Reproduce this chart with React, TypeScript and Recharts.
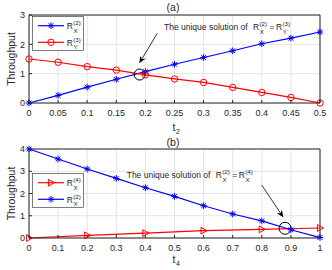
import React from 'react';
import { LineChart, Line, XAxis, YAxis, CartesianGrid, Legend, ReferenceDot, ReferenceLine } from 'recharts';

const FONT = '"Liberation Sans", Arial, Helvetica, sans-serif';
const INK = '#262626';
const BLUE = '#0000ff';
const RED = '#ff0000';
const GRID = '#e4e4e4';

// panel (a): throughput vs t2
const t2 = [0, 0.05, 0.1, 0.15, 0.2, 0.25, 0.3, 0.35, 0.4, 0.45, 0.5];
const rx2A = [0, 0.26, 0.54, 0.81, 1.07, 1.32, 1.55, 1.78, 2.02, 2.21, 2.42];
const ry3A = [1.5, 1.39, 1.24, 1.12, 0.96, 0.82, 0.7, 0.53, 0.36, 0.19, 0];
const yTicksA = [0, 1, 2, 3];

// panel (b): throughput vs t4
const t4 = [0, 0.1, 0.2, 0.3, 0.4, 0.5, 0.6, 0.7, 0.8, 0.9, 1];
const rx2B = [4, 3.55, 3.1, 2.68, 2.26, 1.87, 1.45, 1.08, 0.77, 0.37, 0.02];
const t4Coarse = [0, 0.2, 0.4, 0.6, 0.8, 1];
const rx4B = [0, 0.12, 0.22, 0.33, 0.39, 0.45];
const yTicksB = [0, 1, 2, 3, 4];

// legend / annotation labels: R with (sup) and sub
const legendA = [
  { sup: '(2)', sub: 'X', color: BLUE, marker: 'star' },
  { sup: '(3)', sub: 'Y', color: RED, marker: 'circle' },
];
const legendB = [
  { sup: '(4)', sub: 'X', color: RED, marker: 'tri' },
  { sup: '(2)', sub: 'X', color: BLUE, marker: 'star' },
];
const annotText = 'The unique solution of';

const dataA = t2.map((t, i) => ({ t, rx2: rx2A[i], ry3: ry3A[i] }));
const dataB2 = t4.map((t, i) => ({ t, rx2: rx2B[i] }));
const dataB4 = t4Coarse.map((t, i) => ({ t, rx4: rx4B[i] }));

const Marker = ({ kind, cx, cy, color }: any) => {
  if (kind === 'star') {
    const r = 3.3, d = 2.4;
    return (
      <g stroke={color} strokeWidth={1}>
        <line x1={cx - r} x2={cx + r} y1={cy} y2={cy} />
        <line x1={cx} x2={cx} y1={cy - r} y2={cy + r} />
        <line x1={cx - d} x2={cx + d} y1={cy - d} y2={cy + d} />
        <line x1={cx - d} x2={cx + d} y1={cy + d} y2={cy - d} />
      </g>
    );
  }
  if (kind === 'circle') return <circle cx={cx} cy={cy} r={3.2} fill="none" stroke={color} strokeWidth={1} />;
  return (
    <polygon
      points={`${cx + 3.4},${cy} ${cx - 2.6},${cy - 3.4} ${cx - 2.6},${cy + 3.4}`}
      fill="none"
      stroke={color}
      strokeWidth={1}
    />
  );
};

const dotOf = (kind: string, color: string) => (p: any) =>
  <Marker key={`${kind}-${p.index}`} kind={kind} cx={p.cx} cy={p.cy} color={color} />;

const RSym = ({ x, y, sup, sub, fs = 8.5 }: any) => (
  <g fontFamily={FONT} fill={INK}>
    <text x={x} y={y} fontSize={fs}>R</text>
    <text x={x + fs * 0.76} y={y - fs * 0.5} fontSize={fs * 0.73}>{sup}</text>
    <text x={x + fs * 0.8} y={y + fs * 0.42} fontSize={fs * 0.73}>{sub}</text>
  </g>
);

const LegendBox = ({ rows }: any) => (
  <svg width={52} height={35} style={{ display: 'block' }}>
    <rect x={0.5} y={0.5} width={51} height={34} fill="#fff" stroke={INK} strokeWidth={0.6} />
    {rows.map((r: any, i: number) => {
      const cy = 9.7 + i * 16.6;
      return (
        <g key={i}>
          <line x1={6} x2={32} y1={cy} y2={cy} stroke={r.color} strokeWidth={1.2} />
          <Marker kind={r.marker} cx={19} cy={cy} color={r.color} />
          <RSym x={34.7} y={cy + 3.5} sup={r.sup} sub={r.sub} />
        </g>
      );
    })}
  </svg>
);

const annotShape = (lhs: any, rhs: any) => (p: any) => (
  <g fontFamily={FONT} fill={INK}>
    <text x={p.cx} y={p.cy} fontSize={8.5}>{annotText}</text>
    <RSym x={p.cx + 89} y={p.cy} sup={lhs.sup} sub={lhs.sub} />
    <text x={p.cx + 105.5} y={p.cy} fontSize={8.5}>=</text>
    <RSym x={p.cx + 112} y={p.cy} sup={rhs.sup} sub={rhs.sub} />
  </g>
);

const arrowShape = (p: any) => {
  const { x1, y1, x2, y2 } = p;
  const a = Math.atan2(y2 - y1, x2 - x1);
  const L = 7, W = 3;
  const c = Math.cos(a), s = Math.sin(a);
  const bx = x2 - L * c, by = y2 - L * s;
  const nx = x2 - 0.7 * L * c, ny = y2 - 0.7 * L * s;
  return (
    <g>
      <line x1={x1} y1={y1} x2={nx} y2={ny} stroke="#000" strokeWidth={0.8} />
      <polygon points={`${x2},${y2} ${bx - s * W},${by + c * W} ${nx},${ny} ${bx + s * W},${by - c * W}`} fill="#000" />
    </g>
  );
};

const BottomTick = ({ x, y, payload }: any) => (
  <g>
    <line x1={x} x2={x} y1={y - 7} y2={y - 10} stroke={INK} />
    <text x={x} y={y} dy="0.71em" textAnchor="middle" fontSize={9} fill={INK} fontFamily={FONT}>{payload.value}</text>
  </g>
);
const LeftTick = ({ x, y, payload }: any) => (
  <g>
    <line x1={x + 4} x2={x + 7} y1={y} y2={y} stroke={INK} />
    <text x={x} y={y} dy="0.355em" textAnchor="end" fontSize={9} fill={INK} fontFamily={FONT}>{payload.value}</text>
  </g>
);
const TopTick = ({ x, y }: any) => <line x1={x} x2={x} y1={y} y2={y + 3} stroke={INK} />;
const RightTick = ({ x, y }: any) => <line x1={x} x2={x - 3} y1={y} y2={y} stroke={INK} />;

const titleLabel = (text: string) => (p: any) => {
  const vb = p.viewBox;
  return (
    <text x={vb.x + vb.width / 2 - 1.5} y={vb.y + 10.5} textAnchor="middle" fontSize={10.5} fill={INK} fontFamily={FONT}>
      {text}
    </text>
  );
};

const xLabel = (sub: string, dy: number) => (p: any) => {
  const vb = p.viewBox;
  const cx = vb.x + vb.width / 2 - 2;
  return (
    <g fontFamily={FONT} fill={INK}>
      <text x={cx} y={vb.y + dy} fontSize={10.5}>t</text>
      <text x={cx + 3.4} y={vb.y + dy + 3} fontSize={7}>{sub}</text>
    </g>
  );
};

const yLabel = (p: any) => {
  const vb = p.viewBox;
  const cy = vb.y + vb.height / 2;
  return (
    <text x={14.5} y={cy} transform={`rotate(-90, 14.5, ${cy})`} textAnchor="middle" fontSize={10.5} fill={INK} fontFamily={FONT}>
      Throughput
    </text>
  );
};

const axisProps = { stroke: INK, tickLine: false, tickSize: 0, interval: 0 as const };

const App = () => (
  <div style={{ position: 'absolute', left: 0, top: 0, width: 332, height: 270, background: '#fff' }}>
    <LineChart width={332} height={135} margin={{ top: 0, right: 0, bottom: 0, left: 0 }}>
      <CartesianGrid stroke={GRID} />
      <XAxis
        dataKey="t" type="number" domain={[0, 0.5]} ticks={t2} height={32}
        {...axisProps} tickMargin={7} tick={BottomTick} label={{ content: xLabel('2', 27.5) }}
      />
      <XAxis
        xAxisId="top" orientation="top" type="number" domain={[0, 0.5]} ticks={t2} height={15}
        {...axisProps} tickMargin={0} tick={TopTick} label={{ content: titleLabel('(a)') }}
      />
      <YAxis
        type="number" domain={[0, 3]} ticks={yTicksA} width={29}
        {...axisProps} tickMargin={4} tick={LeftTick} label={{ content: yLabel }}
      />
      <YAxis
        yAxisId="right" orientation="right" type="number" domain={[0, 3]} ticks={yTicksA} width={12}
        {...axisProps} tickMargin={0} tick={RightTick}
      />
      <Line data={dataA} dataKey="rx2" stroke={BLUE} strokeWidth={1.2} dot={dotOf('star', BLUE)} isAnimationActive={false} />
      <Line data={dataA} dataKey="ry3" stroke={RED} strokeWidth={1.2} dot={dotOf('circle', RED)} isAnimationActive={false} />
      <ReferenceDot x={0.19} y={0.97} r={5.5} fill="none" stroke="#000" strokeWidth={1} ifOverflow="visible" />
      <ReferenceLine segment={[{ x: 0.2204, y: 2.376 }, { x: 0.1895, y: 1.353 }]} shape={arrowShape} ifOverflow="visible" />
      <ReferenceDot x={0.232} y={2.472} shape={annotShape(legendA[0], legendA[1])} ifOverflow="visible" />
      <Legend
        layout="vertical" align="center" verticalAlign="middle"
        wrapperStyle={{ left: 32, top: 16, width: 52, height: 35 }}
        content={() => <LegendBox rows={legendA} />}
      />
    </LineChart>

    <LineChart width={332} height={135} margin={{ top: 0, right: 0, bottom: 0, left: 0 }}>
      <CartesianGrid stroke={GRID} />
      <XAxis
        dataKey="t" type="number" domain={[0, 1]} ticks={t4} height={32}
        {...axisProps} tickMargin={7} tick={BottomTick} label={{ content: xLabel('4', 24.5) }}
      />
      <XAxis
        xAxisId="top" orientation="top" type="number" domain={[0, 1]} ticks={t4} height={14}
        {...axisProps} tickMargin={0} tick={TopTick} label={{ content: titleLabel('(b)') }}
      />
      <YAxis
        type="number" domain={[0, 4]} ticks={yTicksB} width={29}
        {...axisProps} tickMargin={4} tick={LeftTick} label={{ content: yLabel }}
      />
      <YAxis
        yAxisId="right" orientation="right" type="number" domain={[0, 4]} ticks={yTicksB} width={12}
        {...axisProps} tickMargin={0} tick={RightTick}
      />
      <Line data={dataB4} dataKey="rx4" stroke={RED} strokeWidth={1.2} dot={dotOf('tri', RED)} isAnimationActive={false} />
      <Line data={dataB2} dataKey="rx2" stroke={BLUE} strokeWidth={1.2} dot={dotOf('star', BLUE)} isAnimationActive={false} />
      <ReferenceDot x={0.88} y={0.436} r={6} fill="none" stroke="#000" strokeWidth={1} ifOverflow="visible" />
      <ReferenceLine segment={[{ x: 0.7997, y: 2.382 }, { x: 0.874, y: 0.93 }]} shape={arrowShape} ifOverflow="visible" />
      <ReferenceDot x={0.3357} y={2.68} shape={annotShape(legendB[1], legendB[0])} ifOverflow="visible" />
      <Legend
        layout="vertical" align="center" verticalAlign="middle"
        wrapperStyle={{ left: 32, top: 38, width: 52, height: 35 }}
        content={() => <LegendBox rows={legendB} />}
      />
    </LineChart>
  </div>
);

export default App;
